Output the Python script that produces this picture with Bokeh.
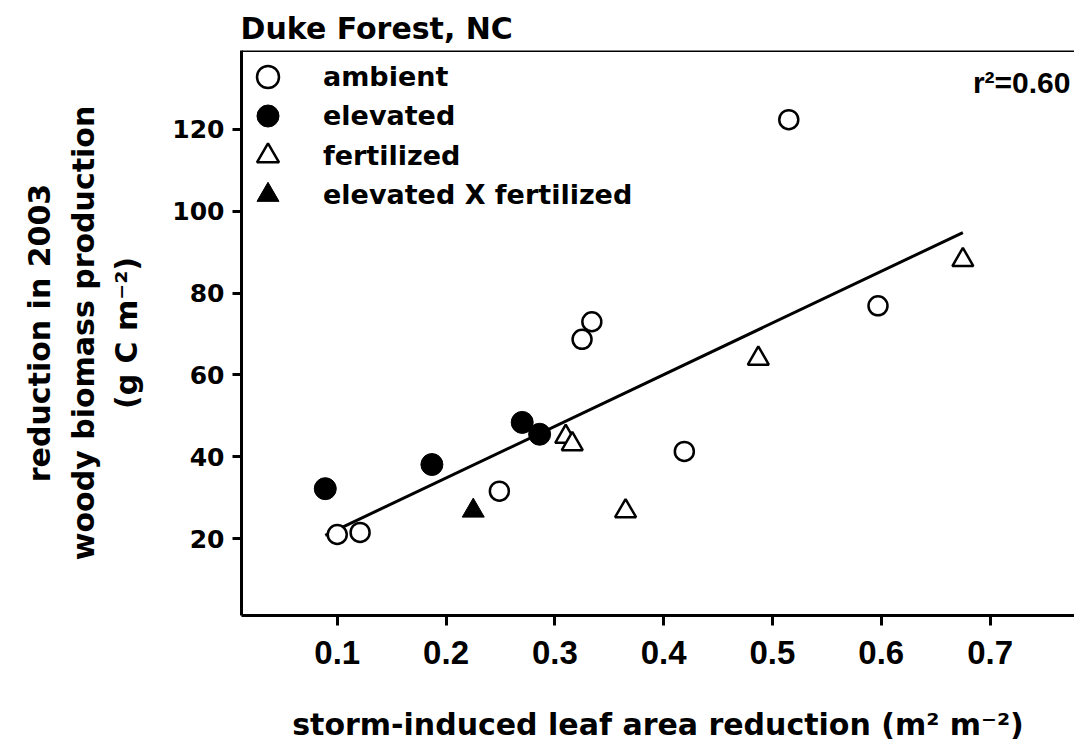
from bokeh.plotting import figure
from bokeh.models import Range1d, FixedTicker, Label, Legend, LegendItem, Span
from bokeh.embed import file_html
from bokeh.resources import INLINE

# Leaf area lost to the 2003 storm (m2 m-2) against the drop in woody biomass
# production (g C m-2), one series per treatment.
ambient_x = [0.100, 0.121, 0.249, 0.325, 0.334, 0.419, 0.597, 0.515]
ambient_y = [21.0, 21.5, 31.6, 68.7, 73.0, 41.3, 76.9, 122.4]

elevated_x = [0.089, 0.187, 0.270, 0.286]
elevated_y = [32.2, 38.1, 48.4, 45.5]

fertilized_x = [0.310, 0.316, 0.365, 0.487, 0.675]
fertilized_y = [44.9, 43.1, 26.7, 64.0, 88.1]

elev_fert_x = [0.225]
elev_fert_y = [26.8]

# regression line through all plots
fit_x = [0.089, 0.675]
fit_y = [20.8, 94.8]
r_squared = 0.60

x_ticks = [0.1, 0.2, 0.3, 0.4, 0.5, 0.6, 0.7]
y_ticks = [20, 40, 60, 80, 100, 120]

X_START, X_END = 0.012, 0.7776
Y_START, Y_END = 1.2, 139.3

BOLD_WIDE = "DejaVu Sans"
BOLD_ARIAL = "Liberation Sans"

FRAME_H = 565          # frame height in px (746 - top border - bottom border)
KEY_BOX = 55           # legend glyph box; markers are drawn at 0.4 of it
KEY_TOP = 76           # centre of the first legend row, px from top of frame area
KEY_STEP = 39.6        # distance between legend rows

p = figure(
    width=1074, height=746,
    output_backend="svg", toolbar_location=None,
    x_range=Range1d(X_START, X_END), y_range=Range1d(Y_START, Y_END),
    min_border_left=241, min_border_right=0,
    min_border_top=50, min_border_bottom=131,
    title="Duke Forest, NC",
)
p.outline_line_color = None
p.grid.visible = False
p.background_fill_color = "white"
p.border_fill_color = "white"

p.title.align = "left"
p.title.text_font = BOLD_WIDE
p.title.text_font_style = "bold"
p.title.text_font_size = "30px"
p.title.text_color = "black"
p.title.standoff = 10
p.title.offset = -1

# x axis
xa = p.xaxis[0]
xa.ticker = FixedTicker(ticks=x_ticks)
xa.axis_line_width = 3
xa.axis_line_color = "black"
xa.major_tick_line_width = 3
xa.major_tick_line_color = "black"
xa.major_tick_in = 0
xa.major_tick_out = 10
xa.minor_tick_line_color = None
xa.major_label_text_font = BOLD_ARIAL
xa.major_label_text_font_style = "bold"
xa.major_label_text_font_size = "33px"
xa.major_label_text_color = "black"
xa.major_label_standoff = 15
xa.axis_label = "storm-induced leaf area reduction (m\u00b2 m\u207b\u00b2)"
xa.axis_label_text_font = BOLD_WIDE
xa.axis_label_text_font_style = "bold"
xa.axis_label_text_font_size = "30px"
xa.axis_label_text_color = "black"
xa.axis_label_standoff = 40

# y axis
ya = p.yaxis[0]
ya.ticker = FixedTicker(ticks=y_ticks)
ya.axis_line_width = 3
ya.axis_line_color = "black"
ya.major_tick_line_width = 3
ya.major_tick_line_color = "black"
ya.major_tick_in = 0
ya.major_tick_out = 9
ya.minor_tick_line_color = None
ya.major_label_text_font = BOLD_WIDE
ya.major_label_text_font_style = "bold"
ya.major_label_text_font_size = "25px"
ya.major_label_text_color = "black"
ya.major_label_standoff = 8
ya.axis_label = "reduction in 2003\nwoody biomass production\n(g C m\u207b\u00b2)"
ya.axis_label_text_font = BOLD_WIDE
ya.axis_label_text_font_style = "bold"
ya.axis_label_text_font_size = "30px"
ya.axis_label_text_color = "black"
ya.axis_label_text_line_height = 1.25
ya.axis_label_standoff = 25

# closing line along the top of the frame
p.add_layout(Span(location=Y_END, dimension="width", line_color="black", line_width=3))

# regression line
p.line(fit_x, fit_y, line_color="black", line_width=3)

r_amb = p.scatter(ambient_x, ambient_y, marker="circle", size=19,
                  fill_color="white", line_color="black", line_width=2.5)
r_elev = p.scatter(elevated_x, elevated_y, marker="circle", size=22,
                   fill_color="black", line_color="black", line_width=1)
r_fert = p.scatter(fertilized_x, fertilized_y, marker="triangle", size=21,
                   fill_color="white", line_color="black", line_width=2.5)
r_ef = p.scatter(elev_fert_x, elev_fert_y, marker="triangle", size=22,
                 fill_color="black", line_color="black", line_width=1)

# one single-row legend per treatment so the rows can sit closer together
# than the glyph box used to size the markers
entries = [
    ("ambient", r_amb),
    ("elevated", r_elev),
    ("fertilized", r_fert),
    ("elevated X fertilized", r_ef),
]
for i, (name, renderer) in enumerate(entries):
    row_centre = KEY_TOP + i * KEY_STEP - 50
    p.add_layout(Legend(
        items=[LegendItem(label=name, renderers=[renderer])],
        location=(-1, FRAME_H - row_centre - KEY_BOX / 2),
        margin=0, padding=0,
        glyph_width=KEY_BOX, glyph_height=KEY_BOX, label_height=KEY_BOX,
        spacing=0, label_standoff=28,
        border_line_color=None, background_fill_alpha=0,
        label_text_font=BOLD_WIDE, label_text_font_style="bold",
        label_text_font_size="27px", label_text_color="black",
    ))

# coefficient of determination, top right of the panel
p.add_layout(Label(
    x=0.7739, y=131.5, text=f"r\u00b2={r_squared:.2f}",
    text_align="right", text_baseline="alphabetic",
    text_font=BOLD_ARIAL, text_font_style="bold", text_font_size="30px",
    text_color="black",
))

open("out.html", "w").write(file_html(p, INLINE))
